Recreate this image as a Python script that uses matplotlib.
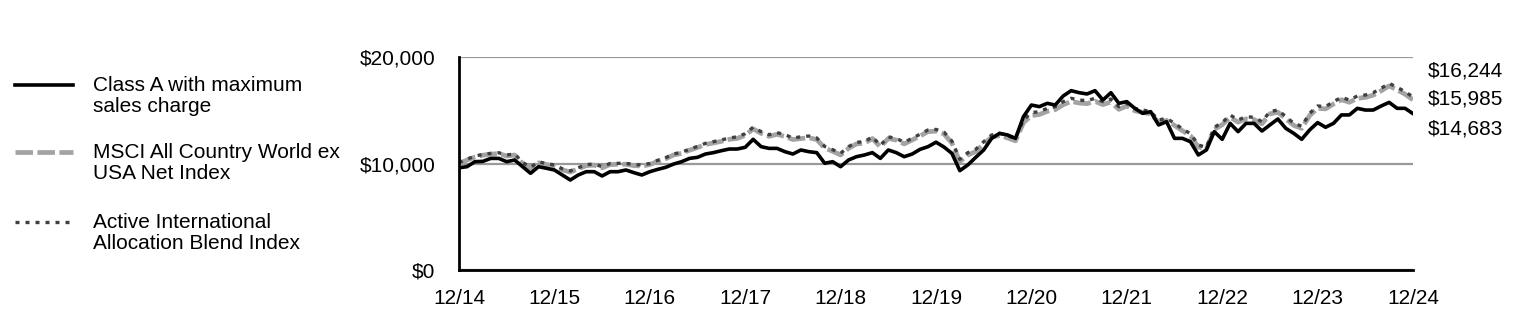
import matplotlib.pyplot as plt
from matplotlib.lines import Line2D
import numpy as np

plt.rcParams['font.family'] = ['Liberation Sans', 'DejaVu Sans']

# monthly values 12/14 .. 12/24 (121 points), growth of $10,000
class_a = [9600, 9700, 10170, 10200, 10480, 10480, 10170, 10330, 9700, 9080,
           9700, 9550, 9390, 8920, 8450, 8920, 9230, 9230, 8830, 9230,
           9230, 9390, 9140, 8920, 9230, 9450, 9640, 9950, 10170, 10480,
           10580, 10890, 11020, 11200, 11360, 11360, 11520, 12270, 11580, 11420,
           11420, 11110, 10890, 11270, 11110, 11020, 10020, 10170, 9700, 10330,
           10640, 10800, 11020, 10480, 11270, 11020, 10640, 10890, 11330, 11580,
           12000, 11550, 10950, 9330, 9860, 10580, 11270, 12360, 12830, 12680,
           12360, 14400, 15490, 15340, 15650, 15490, 16340, 16840, 16650, 16530,
           16840, 15960, 16650, 15650, 15810, 15180, 14710, 14870, 13620, 13930,
           12360, 12360, 12050, 10800, 11270, 12990, 12270, 13770, 12990, 13770,
           13770, 13050, 13620, 14180, 13300, 12830, 12270, 13150, 13840, 13400,
           13770, 14560, 14560, 15180, 15020, 15020, 15400, 15740, 15180, 15180,
           14683]

msci = [10000, 10320, 10600, 10780, 10880, 10930, 10700, 10800, 10000, 9560,
        10060, 9900, 9760, 9400, 9200, 9500, 9800, 9850, 9600, 9900,
        9920, 9930, 9800, 9760, 9900, 10200, 10450, 10800, 10950, 11250,
        11500, 11780, 11930, 12080, 12270, 12360, 12650, 13250, 12830, 12550,
        12740, 12540, 12250, 12340, 12420, 12250, 11450, 11150, 10800, 11430,
        11840, 11900, 12340, 11560, 12350, 12200, 11840, 12210, 12590, 12990,
        13040, 12780, 11920, 10180, 10800, 11120, 11840, 12470, 12630, 12400,
        12130, 13830, 14500, 14600, 14900, 15060, 15520, 15830, 15680, 15620,
        15840, 15530, 15780, 15080, 15400, 14950, 14800, 14650, 13880, 14040,
        13580, 13080, 12600, 11560, 11330, 13200, 13640, 14350, 13880, 14190,
        14130, 13730, 14660, 14820, 14200, 13580, 13300, 14500, 15190, 15130,
        15590, 15990, 15750, 16120, 16210, 16420, 16830, 17290, 16920, 16510,
        15985]

blend = [10080, 10400, 10700, 10850, 10950, 11010, 10800, 10890, 10100, 9640,
         10150, 10000, 9860, 9500, 9300, 9600, 9900, 9950, 9700, 10000,
         10016, 10016, 9900, 9860, 10000, 10300, 10550, 10900, 11050, 11350,
         11600, 11894, 12050, 12200, 12400, 12500, 12800, 13400, 12990, 12700,
         12900, 12700, 12400, 12500, 12580, 12400, 11600, 11300, 10955, 11580,
         11990, 12050, 12500, 11700, 12500, 12360, 11990, 12370, 12750, 13150,
         13200, 12950, 12100, 10392, 11017, 11330, 12050, 12677, 12833, 12600,
         12363, 14085, 14774, 14868, 15181, 15337, 15807, 16119, 15963, 15901,
         16119, 15807, 16050, 15337, 15650, 15181, 15024, 14868, 14085, 14242,
         13772, 13250, 12800, 11738, 11518, 13397, 13835, 14555, 14085, 14398,
         14335, 13929, 14868, 15024, 14400, 13772, 13500, 14711, 15400, 15337,
         15807, 16213, 15963, 16339, 16432, 16651, 17058, 17528, 17152, 16745,
         16244]

tick_labels = ['12/14', '12/15', '12/16', '12/17', '12/18', '12/19',
               '12/20', '12/21', '12/22', '12/23', '12/24']
end_labels = ['$16,244', '$15,985', '$14,683']
legend_labels = ['Class A with maximum\nsales charge',
                 'MSCI All Country World ex\nUSA Net Index',
                 'Active International\nAllocation Blend Index']

months = np.arange(len(class_a))

W, H = 1524, 336
fig = plt.figure(figsize=(W / 100, H / 100), dpi=100)
ax = fig.add_axes([459 / W, 1 - 270 / H, (1413 - 459) / W, (270 - 57) / H])

gray_style = dict(color='#a3a3a3', lw=3.4, dashes=(3.7, 0.95), solid_capstyle='butt')
dot_style = dict(color='#404040', lw=2.4, dashes=(1.2, 1.8))
black_style = dict(color='black', lw=2.6)

ax.plot(months, msci, **gray_style)
ax.plot(months, blend, **dot_style)
ax.plot(months, class_a, **black_style)

ax.set_xlim(0, 120)
ax.set_ylim(0, 20000)
ax.set_yticks([0, 10000, 20000])
ax.set_yticklabels(['$0', '$10,000', '$20,000'])
ax.set_xticks(np.arange(0, 121, 12))
ax.set_xticklabels(tick_labels)
ax.tick_params(axis='both', length=0, labelsize=15)
ax.tick_params(axis='y', pad=17)
ax.tick_params(axis='x', pad=14)

ax.grid(axis='y', color='#999999', lw=1.6)
ax.set_axisbelow(True)
for s in ['top', 'right']:
    ax.spines[s].set_visible(False)
ax.spines['left'].set_linewidth(2)
ax.spines['bottom'].set_linewidth(2)

# end value labels
for lab, yf in zip(end_labels, [0.934, 0.803, 0.662]):
    ax.text(1.015, yf, lab, transform=ax.transAxes, fontsize=15, va='center', ha='left')

# legend drawn by hand on the left
styles = [black_style, gray_style, dot_style]
for lab, st, ypix in zip(legend_labels, styles, [85, 152, 222]):
    yf = 1 - ypix / H
    fig.add_artist(Line2D([15 / W, 73 / W], [yf, yf], transform=fig.transFigure, **st))
    fig.text(93 / W, yf + 9 / H, lab, fontsize=15, va='top', ha='left', linespacing=1.16)

fig.savefig('out.png', dpi=100)
